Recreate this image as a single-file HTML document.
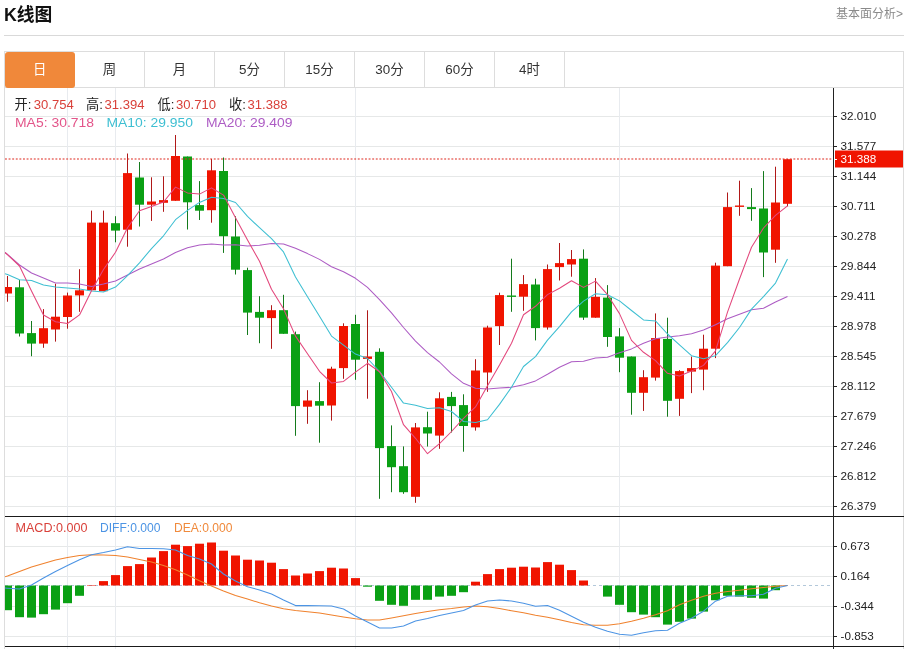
<!DOCTYPE html>
<html lang="zh-CN"><head><meta charset="utf-8"><title>K线图</title>
<style>
html,body{margin:0;padding:0;background:#fff;}
body{width:908px;height:649px;position:relative;overflow:hidden;font-family:"Liberation Sans","Noto Sans CJK SC",sans-serif;color:#222;}
.title{position:absolute;left:4px;top:3px;transform:scaleX(0.955);transform-origin:0 0;font-size:18.6px;font-weight:bold;line-height:24px;color:#111;}
.more{position:absolute;right:5px;top:6px;font-size:12px;line-height:16px;color:#8a8a8a;}
.hr{position:absolute;left:4px;top:35px;width:900px;height:1px;background:#d9d9d9;}
.tabs{position:absolute;left:4px;top:51px;width:898px;height:35px;border:1px solid #dddddd;background:#fff;}
.tab{position:absolute;top:0;width:69px;height:35px;line-height:36.6px;text-align:center;font-size:13.4px;color:#333;border-right:1px solid #dddddd;}
.tab.on{background:#f0883a;color:#fff;border-right:none;width:69.5px;left:0;top:0px;height:35.5px;border-radius:3px;}
</style></head><body>
<div class="title">K线图</div>
<div class="more">基本面分析&gt;</div>
<div class="hr"></div>
<div class="tabs"><div class="tab on" style="left:0px">日</div><div class="tab" style="left:70px">周</div><div class="tab" style="left:140px">月</div><div class="tab" style="left:210px">5分</div><div class="tab" style="left:280px">15分</div><div class="tab" style="left:350px">30分</div><div class="tab" style="left:420px">60分</div><div class="tab" style="left:490px">4时</div></div>
<svg width="908" height="649" viewBox="0 0 908 649" style="position:absolute;left:0;top:0">
<defs><clipPath id="cp"><rect x="5" y="88" width="829" height="560"/></clipPath></defs>
<g stroke="#e6e8e8" stroke-width="1" shape-rendering="crispEdges"><line x1="5" x2="833" y1="116.5" y2="116.5"/><line x1="5" x2="833" y1="146.5" y2="146.5"/><line x1="5" x2="833" y1="176.5" y2="176.5"/><line x1="5" x2="833" y1="206.5" y2="206.5"/><line x1="5" x2="833" y1="236.5" y2="236.5"/><line x1="5" x2="833" y1="266.5" y2="266.5"/><line x1="5" x2="833" y1="296.5" y2="296.5"/><line x1="5" x2="833" y1="326.5" y2="326.5"/><line x1="5" x2="833" y1="356.5" y2="356.5"/><line x1="5" x2="833" y1="386.5" y2="386.5"/><line x1="5" x2="833" y1="416.5" y2="416.5"/><line x1="5" x2="833" y1="446.5" y2="446.5"/><line x1="5" x2="833" y1="476.5" y2="476.5"/><line x1="5" x2="833" y1="506.5" y2="506.5"/><line x1="5" x2="833" y1="546.5" y2="546.5"/><line x1="5" x2="833" y1="576.5" y2="576.5"/><line x1="5" x2="833" y1="606.5" y2="606.5"/><line x1="5" x2="833" y1="636.5" y2="636.5"/></g>
<g stroke="#e8ebef" stroke-width="1" shape-rendering="crispEdges"><line x1="67.5" x2="67.5" y1="88" y2="649"/><line x1="115.5" x2="115.5" y1="88" y2="649"/><line x1="355.5" x2="355.5" y1="88" y2="649"/><line x1="619.5" x2="619.5" y1="88" y2="649"/></g>
<g stroke="#dddddd" stroke-width="1" shape-rendering="crispEdges"><line x1="4.5" x2="4.5" y1="88" y2="649"/><line x1="903.5" x2="903.5" y1="88" y2="649"/></g>
<line x1="5" x2="833" y1="585.5" y2="585.5" stroke="#b3c8da" stroke-width="1" stroke-dasharray="3 3" shape-rendering="crispEdges"/>
<g clip-path="url(#cp)" shape-rendering="crispEdges"><rect x="7.0" y="276.0" width="1" height="25.7" fill="#b01818" shape-rendering="auto"/><rect x="3.0" y="287.0" width="9" height="6.5" fill="#f01400" shape-rendering="auto"/><rect x="19.0" y="280.0" width="1" height="56.5" fill="#147a1c" shape-rendering="auto"/><rect x="15.0" y="287.3" width="9" height="46.2" fill="#0aa014" shape-rendering="auto"/><rect x="31.0" y="321.0" width="1" height="35.2" fill="#147a1c" shape-rendering="auto"/><rect x="27.0" y="333.1" width="9" height="10.5" fill="#0aa014" shape-rendering="auto"/><rect x="43.0" y="309.1" width="1" height="38.7" fill="#b01818" shape-rendering="auto"/><rect x="39.0" y="328.2" width="9" height="15.4" fill="#f01400" shape-rendering="auto"/><rect x="55.0" y="283.7" width="1" height="57.9" fill="#b01818" shape-rendering="auto"/><rect x="51.0" y="316.7" width="9" height="12.8" fill="#f01400" shape-rendering="auto"/><rect x="67.0" y="292.6" width="1" height="36.1" fill="#b01818" shape-rendering="auto"/><rect x="63.0" y="295.5" width="9" height="21.5" fill="#f01400" shape-rendering="auto"/><rect x="79.0" y="269.2" width="1" height="42.6" fill="#b01818" shape-rendering="auto"/><rect x="75.0" y="290.3" width="9" height="5.1" fill="#f01400" shape-rendering="auto"/><rect x="91.0" y="210.6" width="1" height="79.7" fill="#b01818" shape-rendering="auto"/><rect x="87.0" y="222.6" width="9" height="67.7" fill="#f01400" shape-rendering="auto"/><rect x="103.0" y="210.6" width="1" height="80.6" fill="#b01818" shape-rendering="auto"/><rect x="99.0" y="222.6" width="9" height="68.6" fill="#f01400" shape-rendering="auto"/><rect x="115.0" y="216.2" width="1" height="26.1" fill="#147a1c" shape-rendering="auto"/><rect x="111.0" y="223.2" width="9" height="7.4" fill="#0aa014" shape-rendering="auto"/><rect x="127.0" y="153.5" width="1" height="93.2" fill="#b01818" shape-rendering="auto"/><rect x="123.0" y="173.1" width="9" height="56.6" fill="#f01400" shape-rendering="auto"/><rect x="139.0" y="162.0" width="1" height="64.5" fill="#147a1c" shape-rendering="auto"/><rect x="135.0" y="177.5" width="9" height="27.2" fill="#0aa014" shape-rendering="auto"/><rect x="151.0" y="177.3" width="1" height="43.6" fill="#b01818" shape-rendering="auto"/><rect x="147.0" y="201.5" width="9" height="3.2" fill="#f01400" shape-rendering="auto"/><rect x="163.0" y="176.3" width="1" height="35.5" fill="#b01818" shape-rendering="auto"/><rect x="159.0" y="200.1" width="9" height="2.7" fill="#f01400" shape-rendering="auto"/><rect x="175.0" y="135.0" width="1" height="65.8" fill="#b01818" shape-rendering="auto"/><rect x="171.0" y="156.0" width="9" height="44.8" fill="#f01400" shape-rendering="auto"/><rect x="187.0" y="156.5" width="1" height="73.0" fill="#147a1c" shape-rendering="auto"/><rect x="183.0" y="156.5" width="9" height="45.8" fill="#0aa014" shape-rendering="auto"/><rect x="199.0" y="181.1" width="1" height="38.9" fill="#147a1c" shape-rendering="auto"/><rect x="195.0" y="205.1" width="9" height="5.6" fill="#0aa014" shape-rendering="auto"/><rect x="211.0" y="159.0" width="1" height="63.7" fill="#b01818" shape-rendering="auto"/><rect x="207.0" y="170.3" width="9" height="39.9" fill="#f01400" shape-rendering="auto"/><rect x="223.0" y="157.5" width="1" height="95.4" fill="#147a1c" shape-rendering="auto"/><rect x="219.0" y="171.0" width="9" height="65.2" fill="#0aa014" shape-rendering="auto"/><rect x="235.0" y="216.2" width="1" height="58.3" fill="#147a1c" shape-rendering="auto"/><rect x="231.0" y="236.5" width="9" height="33.2" fill="#0aa014" shape-rendering="auto"/><rect x="247.0" y="267.7" width="1" height="67.3" fill="#147a1c" shape-rendering="auto"/><rect x="243.0" y="270.1" width="9" height="42.5" fill="#0aa014" shape-rendering="auto"/><rect x="259.0" y="296.2" width="1" height="47.0" fill="#147a1c" shape-rendering="auto"/><rect x="255.0" y="311.9" width="9" height="5.8" fill="#0aa014" shape-rendering="auto"/><rect x="271.0" y="305.2" width="1" height="43.6" fill="#b01818" shape-rendering="auto"/><rect x="267.0" y="310.2" width="9" height="7.9" fill="#f01400" shape-rendering="auto"/><rect x="283.0" y="294.8" width="1" height="39.0" fill="#147a1c" shape-rendering="auto"/><rect x="279.0" y="310.2" width="9" height="23.6" fill="#0aa014" shape-rendering="auto"/><rect x="295.0" y="331.6" width="1" height="104.2" fill="#147a1c" shape-rendering="auto"/><rect x="291.0" y="334.2" width="9" height="71.9" fill="#0aa014" shape-rendering="auto"/><rect x="307.0" y="390.2" width="1" height="33.6" fill="#b01818" shape-rendering="auto"/><rect x="303.0" y="400.5" width="9" height="6.2" fill="#f01400" shape-rendering="auto"/><rect x="319.0" y="382.2" width="1" height="60.5" fill="#147a1c" shape-rendering="auto"/><rect x="315.0" y="401.1" width="9" height="4.6" fill="#0aa014" shape-rendering="auto"/><rect x="331.0" y="366.7" width="1" height="53.9" fill="#b01818" shape-rendering="auto"/><rect x="327.0" y="368.7" width="9" height="36.8" fill="#f01400" shape-rendering="auto"/><rect x="343.0" y="323.3" width="1" height="55.5" fill="#b01818" shape-rendering="auto"/><rect x="339.0" y="326.0" width="9" height="42.1" fill="#f01400" shape-rendering="auto"/><rect x="355.0" y="314.8" width="1" height="65.0" fill="#147a1c" shape-rendering="auto"/><rect x="351.0" y="324.0" width="9" height="35.7" fill="#0aa014" shape-rendering="auto"/><rect x="367.0" y="310.3" width="1" height="88.4" fill="#b01818" shape-rendering="auto"/><rect x="363.0" y="356.5" width="9" height="2.4" fill="#f01400" shape-rendering="auto"/><rect x="379.0" y="348.3" width="1" height="150.5" fill="#147a1c" shape-rendering="auto"/><rect x="375.0" y="351.8" width="9" height="96.3" fill="#0aa014" shape-rendering="auto"/><rect x="391.0" y="425.4" width="1" height="66.8" fill="#147a1c" shape-rendering="auto"/><rect x="387.0" y="446.1" width="9" height="21.1" fill="#0aa014" shape-rendering="auto"/><rect x="403.0" y="446.4" width="1" height="47.4" fill="#147a1c" shape-rendering="auto"/><rect x="399.0" y="466.2" width="9" height="26.0" fill="#0aa014" shape-rendering="auto"/><rect x="415.0" y="423.0" width="1" height="79.8" fill="#b01818" shape-rendering="auto"/><rect x="411.0" y="427.4" width="9" height="69.4" fill="#f01400" shape-rendering="auto"/><rect x="427.0" y="411.7" width="1" height="34.8" fill="#147a1c" shape-rendering="auto"/><rect x="423.0" y="427.2" width="9" height="6.3" fill="#0aa014" shape-rendering="auto"/><rect x="439.0" y="392.3" width="1" height="56.5" fill="#b01818" shape-rendering="auto"/><rect x="435.0" y="398.3" width="9" height="37.3" fill="#f01400" shape-rendering="auto"/><rect x="451.0" y="391.9" width="1" height="40.6" fill="#147a1c" shape-rendering="auto"/><rect x="447.0" y="396.9" width="9" height="9.2" fill="#0aa014" shape-rendering="auto"/><rect x="463.0" y="394.3" width="1" height="57.4" fill="#147a1c" shape-rendering="auto"/><rect x="459.0" y="405.1" width="9" height="20.9" fill="#0aa014" shape-rendering="auto"/><rect x="475.0" y="359.2" width="1" height="71.4" fill="#b01818" shape-rendering="auto"/><rect x="471.0" y="370.5" width="9" height="56.9" fill="#f01400" shape-rendering="auto"/><rect x="487.0" y="325.7" width="1" height="66.1" fill="#b01818" shape-rendering="auto"/><rect x="483.0" y="327.5" width="9" height="45.0" fill="#f01400" shape-rendering="auto"/><rect x="499.0" y="292.7" width="1" height="52.3" fill="#b01818" shape-rendering="auto"/><rect x="495.0" y="295.1" width="9" height="31.0" fill="#f01400" shape-rendering="auto"/><rect x="511.0" y="258.7" width="1" height="53.1" fill="#147a1c" shape-rendering="auto"/><rect x="507.0" y="295.5" width="9" height="1.4" fill="#0aa014" shape-rendering="auto"/><rect x="523.0" y="275.1" width="1" height="35.7" fill="#b01818" shape-rendering="auto"/><rect x="519.0" y="284.1" width="9" height="12.6" fill="#f01400" shape-rendering="auto"/><rect x="535.0" y="278.7" width="1" height="61.7" fill="#147a1c" shape-rendering="auto"/><rect x="531.0" y="284.5" width="9" height="43.6" fill="#0aa014" shape-rendering="auto"/><rect x="547.0" y="264.5" width="1" height="65.1" fill="#b01818" shape-rendering="auto"/><rect x="543.0" y="269.1" width="9" height="58.4" fill="#f01400" shape-rendering="auto"/><rect x="559.0" y="243.0" width="1" height="37.5" fill="#b01818" shape-rendering="auto"/><rect x="555.0" y="263.1" width="9" height="4.0" fill="#f01400" shape-rendering="auto"/><rect x="571.0" y="250.0" width="1" height="26.7" fill="#b01818" shape-rendering="auto"/><rect x="567.0" y="259.1" width="9" height="5.4" fill="#f01400" shape-rendering="auto"/><rect x="583.0" y="249.4" width="1" height="70.5" fill="#147a1c" shape-rendering="auto"/><rect x="579.0" y="258.7" width="9" height="58.9" fill="#0aa014" shape-rendering="auto"/><rect x="595.0" y="278.1" width="1" height="39.6" fill="#b01818" shape-rendering="auto"/><rect x="591.0" y="296.8" width="9" height="20.9" fill="#f01400" shape-rendering="auto"/><rect x="607.0" y="285.1" width="1" height="61.7" fill="#147a1c" shape-rendering="auto"/><rect x="603.0" y="297.6" width="9" height="39.4" fill="#0aa014" shape-rendering="auto"/><rect x="619.0" y="328.1" width="1" height="44.1" fill="#147a1c" shape-rendering="auto"/><rect x="615.0" y="336.4" width="9" height="21.3" fill="#0aa014" shape-rendering="auto"/><rect x="631.0" y="356.5" width="1" height="58.2" fill="#147a1c" shape-rendering="auto"/><rect x="627.0" y="356.5" width="9" height="36.3" fill="#0aa014" shape-rendering="auto"/><rect x="643.0" y="370.2" width="1" height="40.7" fill="#b01818" shape-rendering="auto"/><rect x="639.0" y="377.2" width="9" height="15.6" fill="#f01400" shape-rendering="auto"/><rect x="655.0" y="313.4" width="1" height="67.2" fill="#b01818" shape-rendering="auto"/><rect x="651.0" y="338.1" width="9" height="39.5" fill="#f01400" shape-rendering="auto"/><rect x="667.0" y="317.7" width="1" height="99.0" fill="#147a1c" shape-rendering="auto"/><rect x="663.0" y="338.9" width="9" height="61.9" fill="#0aa014" shape-rendering="auto"/><rect x="679.0" y="370.2" width="1" height="45.7" fill="#b01818" shape-rendering="auto"/><rect x="675.0" y="371.1" width="9" height="27.7" fill="#f01400" shape-rendering="auto"/><rect x="691.0" y="356.6" width="1" height="36.5" fill="#b01818" shape-rendering="auto"/><rect x="687.0" y="368.1" width="9" height="3.5" fill="#f01400" shape-rendering="auto"/><rect x="703.0" y="334.7" width="1" height="55.5" fill="#b01818" shape-rendering="auto"/><rect x="699.0" y="348.7" width="9" height="20.9" fill="#f01400" shape-rendering="auto"/><rect x="715.0" y="262.7" width="1" height="95.4" fill="#b01818" shape-rendering="auto"/><rect x="711.0" y="265.6" width="9" height="83.1" fill="#f01400" shape-rendering="auto"/><rect x="727.0" y="192.5" width="1" height="73.7" fill="#b01818" shape-rendering="auto"/><rect x="723.0" y="207.1" width="9" height="59.1" fill="#f01400" shape-rendering="auto"/><rect x="739.0" y="180.7" width="1" height="35.1" fill="#b01818" shape-rendering="auto"/><rect x="735.0" y="205.5" width="9" height="1.4" fill="#f01400" shape-rendering="auto"/><rect x="751.0" y="188.1" width="1" height="32.7" fill="#147a1c" shape-rendering="auto"/><rect x="747.0" y="207.1" width="9" height="2.0" fill="#0aa014" shape-rendering="auto"/><rect x="763.0" y="171.1" width="1" height="106.0" fill="#147a1c" shape-rendering="auto"/><rect x="759.0" y="208.5" width="9" height="44.0" fill="#0aa014" shape-rendering="auto"/><rect x="775.0" y="166.7" width="1" height="96.1" fill="#b01818" shape-rendering="auto"/><rect x="771.0" y="202.5" width="9" height="47.2" fill="#f01400" shape-rendering="auto"/><rect x="787.0" y="159.0" width="1" height="47.3" fill="#b01818" shape-rendering="auto"/><rect x="783.0" y="159.2" width="9" height="44.6" fill="#f01400" shape-rendering="auto"/></g>
<line x1="5" x2="833" y1="159" y2="159" stroke="#de261c" stroke-width="1.1" stroke-dasharray="1.9 1.7"/>
<g clip-path="url(#cp)"><rect x="3.0" y="585.5" width="9" height="24.7" fill="#0aa014"/><rect x="15.0" y="585.5" width="9" height="31.7" fill="#0aa014"/><rect x="27.0" y="585.5" width="9" height="32.1" fill="#0aa014"/><rect x="39.0" y="585.5" width="9" height="28.7" fill="#0aa014"/><rect x="51.0" y="585.5" width="9" height="24.1" fill="#0aa014"/><rect x="63.0" y="585.5" width="9" height="17.7" fill="#0aa014"/><rect x="75.0" y="585.5" width="9" height="10.3" fill="#0aa014"/><rect x="87.0" y="585.0" width="9" height="0.5" fill="#f01400"/><rect x="99.0" y="581.1" width="9" height="4.4" fill="#f01400"/><rect x="111.0" y="575.1" width="9" height="10.4" fill="#f01400"/><rect x="123.0" y="566.1" width="9" height="19.4" fill="#f01400"/><rect x="135.0" y="564.1" width="9" height="21.4" fill="#f01400"/><rect x="147.0" y="557.5" width="9" height="28.0" fill="#f01400"/><rect x="159.0" y="551.1" width="9" height="34.4" fill="#f01400"/><rect x="171.0" y="544.7" width="9" height="40.8" fill="#f01400"/><rect x="183.0" y="546.1" width="9" height="39.4" fill="#f01400"/><rect x="195.0" y="543.7" width="9" height="41.8" fill="#f01400"/><rect x="207.0" y="542.5" width="9" height="43.0" fill="#f01400"/><rect x="219.0" y="550.7" width="9" height="34.8" fill="#f01400"/><rect x="231.0" y="555.5" width="9" height="30.0" fill="#f01400"/><rect x="243.0" y="559.7" width="9" height="25.8" fill="#f01400"/><rect x="255.0" y="560.5" width="9" height="25.0" fill="#f01400"/><rect x="267.0" y="562.7" width="9" height="22.8" fill="#f01400"/><rect x="279.0" y="569.1" width="9" height="16.4" fill="#f01400"/><rect x="291.0" y="575.5" width="9" height="10.0" fill="#f01400"/><rect x="303.0" y="573.5" width="9" height="12.0" fill="#f01400"/><rect x="315.0" y="571.1" width="9" height="14.4" fill="#f01400"/><rect x="327.0" y="567.7" width="9" height="17.8" fill="#f01400"/><rect x="339.0" y="568.5" width="9" height="17.0" fill="#f01400"/><rect x="351.0" y="578.1" width="9" height="7.4" fill="#f01400"/><rect x="363.0" y="585.5" width="9" height="1.2" fill="#0aa014"/><rect x="375.0" y="585.5" width="9" height="15.3" fill="#0aa014"/><rect x="387.0" y="585.5" width="9" height="19.3" fill="#0aa014"/><rect x="399.0" y="585.5" width="9" height="20.3" fill="#0aa014"/><rect x="411.0" y="585.5" width="9" height="14.3" fill="#0aa014"/><rect x="423.0" y="585.5" width="9" height="14.3" fill="#0aa014"/><rect x="435.0" y="585.5" width="9" height="11.1" fill="#0aa014"/><rect x="447.0" y="585.5" width="9" height="10.3" fill="#0aa014"/><rect x="459.0" y="585.5" width="9" height="6.7" fill="#0aa014"/><rect x="471.0" y="581.7" width="9" height="3.8" fill="#f01400"/><rect x="483.0" y="574.1" width="9" height="11.4" fill="#f01400"/><rect x="495.0" y="569.1" width="9" height="16.4" fill="#f01400"/><rect x="507.0" y="567.7" width="9" height="17.8" fill="#f01400"/><rect x="519.0" y="566.7" width="9" height="18.8" fill="#f01400"/><rect x="531.0" y="567.5" width="9" height="18.0" fill="#f01400"/><rect x="543.0" y="562.1" width="9" height="23.4" fill="#f01400"/><rect x="555.0" y="564.7" width="9" height="20.8" fill="#f01400"/><rect x="567.0" y="570.1" width="9" height="15.4" fill="#f01400"/><rect x="579.0" y="580.5" width="9" height="5.0" fill="#f01400"/><rect x="603.0" y="585.5" width="9" height="11.1" fill="#0aa014"/><rect x="615.0" y="585.5" width="9" height="19.3" fill="#0aa014"/><rect x="627.0" y="585.5" width="9" height="26.7" fill="#0aa014"/><rect x="639.0" y="585.5" width="9" height="29.1" fill="#0aa014"/><rect x="651.0" y="585.5" width="9" height="31.7" fill="#0aa014"/><rect x="663.0" y="585.5" width="9" height="39.1" fill="#0aa014"/><rect x="675.0" y="585.5" width="9" height="36.3" fill="#0aa014"/><rect x="687.0" y="585.5" width="9" height="33.1" fill="#0aa014"/><rect x="699.0" y="585.5" width="9" height="26.1" fill="#0aa014"/><rect x="711.0" y="585.5" width="9" height="14.7" fill="#0aa014"/><rect x="723.0" y="585.5" width="9" height="10.3" fill="#0aa014"/><rect x="735.0" y="585.5" width="9" height="11.1" fill="#0aa014"/><rect x="747.0" y="585.5" width="9" height="12.3" fill="#0aa014"/><rect x="759.0" y="585.5" width="9" height="13.1" fill="#0aa014"/><rect x="771.0" y="585.5" width="9" height="4.7" fill="#0aa014"/></g>
<g clip-path="url(#cp)">
<polyline points="5,252.5 7.5,254.5 19.5,265.0 31.5,273.0 43.5,278.0 55.5,283.0 67.5,283.0 79.5,284.0 91.5,286.6 103.5,284.0 115.5,281.0 127.5,275.0 139.5,269.0 151.5,264.0 163.5,259.0 175.5,252.5 187.5,247.8 199.5,245.0 211.5,244.0 223.5,245.0 235.5,244.8 247.5,246.0 259.5,245.2 271.5,243.6 283.5,243.9 295.5,248.3 307.5,253.6 319.5,259.4 331.5,266.7 343.5,271.8 355.5,278.3 367.5,287.4 379.5,299.6 391.5,312.9 403.5,327.5 415.5,341.1 427.5,352.6 439.5,362.0 451.5,373.8 463.5,383.3 475.5,388.3 487.5,389.1 499.5,388.0 511.5,387.3 523.5,384.8 535.5,380.9 547.5,374.3 559.5,367.2 571.5,361.7 583.5,361.3 595.5,358.1 607.5,357.2 619.5,352.7 631.5,348.9 643.5,343.2 655.5,338.7 667.5,337.1 679.5,335.7 691.5,333.8 703.5,330.0 715.5,324.7 727.5,318.7 739.5,314.2 751.5,309.8 763.5,308.3 775.5,302.0 787.5,296.5" fill="none" stroke="#ad5cc4" stroke-width="1.05" stroke-linejoin="round"/>
<polyline points="5,273.8 7.5,274.5 19.5,279.8 31.5,280.6 43.5,285.0 55.5,287.0 67.5,288.0 79.5,289.0 91.5,291.0 103.5,292.0 115.5,287.1 127.5,275.7 139.5,262.8 151.5,248.6 163.5,235.8 175.5,219.7 187.5,210.4 199.5,202.4 211.5,197.2 223.5,198.6 235.5,202.5 247.5,216.4 259.5,227.7 271.5,238.6 283.5,251.9 295.5,277.0 307.5,296.8 319.5,316.3 331.5,336.1 343.5,345.1 355.5,354.1 367.5,358.5 379.5,371.5 391.5,387.2 403.5,403.1 415.5,405.2 427.5,408.5 439.5,407.8 451.5,411.5 463.5,421.5 475.5,422.6 487.5,419.7 499.5,404.4 511.5,387.3 523.5,366.5 535.5,356.6 547.5,340.1 559.5,326.6 571.5,311.9 583.5,301.1 595.5,293.7 607.5,294.7 619.5,300.9 631.5,310.5 643.5,319.9 655.5,320.9 667.5,334.0 679.5,344.8 691.5,355.7 703.5,358.8 715.5,355.7 727.5,342.7 739.5,327.5 751.5,309.1 763.5,296.7 775.5,283.1 787.5,258.9" fill="none" stroke="#3ebfd2" stroke-width="1.05" stroke-linejoin="round"/>
<polyline points="5,252.5 7.5,254.7 19.5,266.0 31.5,291.0 43.5,315.0 55.5,321.8 67.5,323.5 79.5,314.9 91.5,290.7 103.5,269.5 115.5,252.3 127.5,227.8 139.5,210.7 151.5,206.5 163.5,202.0 175.5,187.1 187.5,192.9 199.5,194.1 211.5,187.9 223.5,195.1 235.5,217.8 247.5,239.9 259.5,261.3 271.5,289.3 283.5,308.8 295.5,336.1 307.5,353.7 319.5,371.3 331.5,383.0 343.5,381.4 355.5,372.1 367.5,363.3 379.5,371.8 391.5,391.5 403.5,424.7 415.5,438.3 427.5,453.7 439.5,443.7 451.5,431.5 463.5,418.3 475.5,406.9 487.5,385.7 499.5,365.0 511.5,343.2 523.5,314.8 535.5,306.3 547.5,294.6 559.5,288.2 571.5,280.7 583.5,287.4 595.5,281.1 607.5,294.7 619.5,313.6 631.5,340.4 643.5,352.3 655.5,360.6 667.5,373.3 679.5,376.0 691.5,371.1 703.5,365.4 715.5,350.9 727.5,312.1 739.5,279.0 751.5,247.2 763.5,228.0 775.5,215.3 787.5,205.8" fill="none" stroke="#e3477c" stroke-width="1.05" stroke-linejoin="round"/>
<polyline points="5,576.7 7.5,576.0 19.5,571.5 31.5,567.0 43.5,563.5 55.5,560.0 67.5,557.5 79.5,555.5 91.5,554.7 103.5,555.0 115.5,555.5 127.5,557.0 139.5,559.5 151.5,562.0 163.5,565.5 175.5,569.7 187.5,575.0 199.5,580.7 211.5,586.0 223.5,591.0 235.5,595.5 247.5,599.0 259.5,602.8 271.5,606.0 283.5,608.8 295.5,610.6 307.5,611.8 319.5,613.0 331.5,615.0 343.5,617.0 355.5,618.8 367.5,620.0 379.5,620.0 391.5,618.0 403.5,615.8 415.5,613.6 427.5,611.6 439.5,609.8 451.5,608.6 463.5,607.0 475.5,606.0 487.5,606.8 499.5,608.6 511.5,610.8 523.5,612.8 535.5,615.2 547.5,617.2 559.5,619.8 571.5,622.6 583.5,624.8 595.5,625.2 607.5,625.2 619.5,623.8 631.5,621.2 643.5,618.2 655.5,614.8 667.5,610.8 679.5,604.8 691.5,600.2 703.5,596.2 715.5,593.2 727.5,591.6 739.5,590.2 751.5,588.8 763.5,587.6 775.5,586.2 787.5,585.5" fill="none" stroke="#f0822e" stroke-width="1.05" stroke-linejoin="round"/>
<polyline points="5,588 7.5,588.2 19.5,589.0 31.5,585.0 43.5,578.0 55.5,571.5 67.5,565.5 79.5,559.7 91.5,554.7 103.5,552.5 115.5,550.0 127.5,546.7 139.5,548.5 151.5,548.5 163.5,548.7 175.5,550.0 187.5,555.5 199.5,559.0 211.5,564.0 223.5,574.0 235.5,581.0 247.5,586.7 259.5,590.0 271.5,594.0 283.5,600.0 295.5,605.6 307.5,605.6 319.5,605.8 331.5,606.0 343.5,609.0 355.5,616.0 367.5,622.0 379.5,628.0 391.5,628.0 403.5,626.0 415.5,621.0 427.5,618.6 439.5,615.6 451.5,613.0 463.5,610.6 475.5,605.0 487.5,601.0 499.5,600.0 511.5,601.0 523.5,603.2 535.5,606.2 547.5,605.6 559.5,610.2 571.5,616.2 583.5,622.2 595.5,627.2 607.5,631.2 619.5,634.2 631.5,635.2 643.5,632.8 655.5,630.8 667.5,630.2 679.5,623.2 691.5,618.2 703.5,611.2 715.5,601.2 727.5,596.2 739.5,595.8 751.5,595.8 763.5,594.2 775.5,588.2 787.5,585.5" fill="none" stroke="#4c94e4" stroke-width="1.05" stroke-linejoin="round"/>
</g>
<g stroke="#1a1a1a" stroke-width="1.2" shape-rendering="crispEdges"><line x1="5" x2="904" y1="516.5" y2="516.5"/><line x1="5" x2="904" y1="646.5" y2="646.5"/></g>
<g stroke="#222" stroke-width="1" shape-rendering="crispEdges"><line x1="833.5" x2="833.5" y1="88" y2="649"/><line x1="834" x2="837" y1="116.5" y2="116.5"/><line x1="834" x2="837" y1="146.5" y2="146.5"/><line x1="834" x2="837" y1="176.5" y2="176.5"/><line x1="834" x2="837" y1="206.5" y2="206.5"/><line x1="834" x2="837" y1="236.5" y2="236.5"/><line x1="834" x2="837" y1="266.5" y2="266.5"/><line x1="834" x2="837" y1="296.5" y2="296.5"/><line x1="834" x2="837" y1="326.5" y2="326.5"/><line x1="834" x2="837" y1="356.5" y2="356.5"/><line x1="834" x2="837" y1="386.5" y2="386.5"/><line x1="834" x2="837" y1="416.5" y2="416.5"/><line x1="834" x2="837" y1="446.5" y2="446.5"/><line x1="834" x2="837" y1="476.5" y2="476.5"/><line x1="834" x2="837" y1="506.5" y2="506.5"/><line x1="834" x2="837" y1="546.5" y2="546.5"/><line x1="834" x2="837" y1="576.5" y2="576.5"/><line x1="834" x2="837" y1="606.5" y2="606.5"/><line x1="834" x2="837" y1="636.5" y2="636.5"/></g>
<g font-family="'Liberation Sans',sans-serif" font-size="11.7" fill="#222"><text x="840.5" y="120.3">32.010</text><text x="840.5" y="150.3">31.577</text><text x="840.5" y="180.3">31.144</text><text x="840.5" y="210.3">30.711</text><text x="840.5" y="240.3">30.278</text><text x="840.5" y="270.3">29.844</text><text x="840.5" y="300.3">29.411</text><text x="840.5" y="330.3">28.978</text><text x="840.5" y="360.3">28.545</text><text x="840.5" y="390.3">28.112</text><text x="840.5" y="420.3">27.679</text><text x="840.5" y="450.3">27.246</text><text x="840.5" y="480.3">26.812</text><text x="840.5" y="510.3">26.379</text><text x="840.5" y="550.3">0.673</text><text x="840.5" y="580.3">0.164</text><text x="840.5" y="610.3">-0.344</text><text x="840.5" y="640.3">-0.853</text></g>
<rect x="835" y="150.5" width="68" height="17" fill="#f01400"/>
<line x1="834" x2="837" y1="159.5" y2="159.5" stroke="#fff" stroke-width="1" shape-rendering="crispEdges"/>
<text x="840.5" y="163.4" font-family="'Liberation Sans',sans-serif" font-size="11.7" fill="#fff">31.388</text>
<text x="14.5" y="109" font-family="'Liberation Sans','Noto Sans CJK SC',sans-serif" font-size="13.2" fill="#222">开:</text>
<text x="33.8" y="109" font-family="'Liberation Sans','Noto Sans CJK SC',sans-serif" font-size="13.7" fill="#d9413a" textLength="40" lengthAdjust="spacingAndGlyphs">30.754</text>
<text x="86" y="109" font-family="'Liberation Sans','Noto Sans CJK SC',sans-serif" font-size="13.2" fill="#222">高:</text>
<text x="104.5" y="109" font-family="'Liberation Sans','Noto Sans CJK SC',sans-serif" font-size="13.7" fill="#d9413a" textLength="40" lengthAdjust="spacingAndGlyphs">31.394</text>
<text x="157.5" y="109" font-family="'Liberation Sans','Noto Sans CJK SC',sans-serif" font-size="13.2" fill="#222">低:</text>
<text x="176" y="109" font-family="'Liberation Sans','Noto Sans CJK SC',sans-serif" font-size="13.7" fill="#d9413a" textLength="40" lengthAdjust="spacingAndGlyphs">30.710</text>
<text x="229" y="109" font-family="'Liberation Sans','Noto Sans CJK SC',sans-serif" font-size="13.2" fill="#222">收:</text>
<text x="247.5" y="109" font-family="'Liberation Sans','Noto Sans CJK SC',sans-serif" font-size="13.7" fill="#d9413a" textLength="40" lengthAdjust="spacingAndGlyphs">31.388</text>
<text x="15" y="127" font-family="'Liberation Sans','Noto Sans CJK SC',sans-serif" font-size="13.7" fill="#e3558a" textLength="79" lengthAdjust="spacingAndGlyphs">MA5: 30.718</text>
<text x="106.5" y="127" font-family="'Liberation Sans','Noto Sans CJK SC',sans-serif" font-size="13.7" fill="#3ebfd2" textLength="86.5" lengthAdjust="spacingAndGlyphs">MA10: 29.950</text>
<text x="206" y="127" font-family="'Liberation Sans','Noto Sans CJK SC',sans-serif" font-size="13.7" fill="#ad5cc4" textLength="86.5" lengthAdjust="spacingAndGlyphs">MA20: 29.409</text>
<text x="15.5" y="532" font-family="'Liberation Sans','Noto Sans CJK SC',sans-serif" font-size="12.8" fill="#d9413a" textLength="72" lengthAdjust="spacingAndGlyphs">MACD:0.000</text>
<text x="100" y="532" font-family="'Liberation Sans','Noto Sans CJK SC',sans-serif" font-size="12.8" fill="#4c94e4" textLength="60.5" lengthAdjust="spacingAndGlyphs">DIFF:0.000</text>
<text x="174" y="532" font-family="'Liberation Sans','Noto Sans CJK SC',sans-serif" font-size="12.8" fill="#f08a3c" textLength="58.5" lengthAdjust="spacingAndGlyphs">DEA:0.000</text>
</svg>
</body></html>
